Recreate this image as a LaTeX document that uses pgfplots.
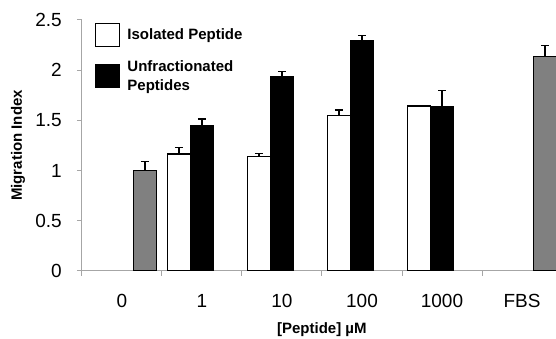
\documentclass[border=0pt]{standalone}
\usepackage{fontspec}
\setmainfont{Liberation Sans}
\usepackage{pgfplots}
\pgfplotsset{compat=1.18}
\definecolor{barGray}{HTML}{808080}
\definecolor{axGray}{HTML}{A6A6A6}
\begin{document}
\begin{tikzpicture}
\begin{axis}[
  scale only axis, width=474bp, height=251bp,
  xmin=-0.5, xmax=5.425, ymin=0, ymax=2.5,
  axis x line*=bottom, axis y line*=left,
  axis line style={axGray, line width=1bp},
  ybar, bar width=0.2875,
  ytick={0,0.5,1,1.5,2,2.5},
  yticklabels={0,0.5,1,1.5,2,2.5},
  xtick={-0.5,0.5,1.5,2.5,3.5,4.5}, xticklabels={},
  extra x ticks={0,1,2,3,4,5},
  extra x tick labels={0,1,10,100,1000,FBS},
  extra x tick style={major tick length=0pt},
  tick style={axGray, line width=1bp},
  tick align=outside, major tick length=5bp,
  tick label style={font=\fontsize{19bp}{22bp}\selectfont},
  x tick label style={anchor=center, yshift=-30bp},
  y tick label style={anchor=east, inner sep=0pt, xshift=-15bp},
  xlabel={[Peptide] µM},
  ylabel={Migration Index},
  every axis x label/.style={at={(axis description cs:0.506,-0.235)}, anchor=center, font=\fontsize{15bp}{18bp}\selectfont\bfseries},
  every axis y label/.style={at={(axis description cs:-0.135,0.5)}, rotate=90, anchor=center, font=\fontsize{15bp}{18bp}\selectfont\bfseries},
  legend style={draw=none, fill=none, inner sep=0pt, outer sep=0pt,
    at={(axis description cs:0.0274,0.99)}, anchor=north west,
    font=\fontsize{15bp}{19bp}\selectfont\bfseries, row sep=12bp,
    nodes={align=left},
    /tikz/every odd column/.append style={column sep=5bp}},
  legend cell align=left,
  legend image code/.code={\draw[#1, line width=1.5bp] (0bp,-11bp) rectangle (24bp,12bp);},
  error bars/y dir=plus, error bars/y explicit,
  error bars/error bar style={line width=1.5bp, black},
  error bars/error mark options={rotate=90, mark size=4bp, line width=1.5bp, black},
]
\addplot[bar shift=-0.2875, fill=white, draw=black, line width=1.5bp]
  coordinates {(1,1.165) +- (0,0.065) (2,1.14) +- (0,0.03) (3,1.547) +- (0,0.055) (4,1.643) +- (0,0)};
\addlegendentry{Isolated Peptide}
\addplot[bar shift=0, fill=black, draw=black, line width=1.5bp]
  coordinates {(1,1.447) +- (0,0.065) (2,1.93) +- (0,0.055) (3,2.294) +- (0,0.05) (4,1.633) +- (0,0.165)};
\addlegendentry{Unfractionated\\Peptides}
\addplot[forget plot, bar shift=0.2875, fill=barGray, draw=black, line width=1.5bp]
  coordinates {(0,1.0) +- (0,0.09) (5,2.134) +- (0,0.11)};
\end{axis}
\pgfresetboundingbox
\path[use as bounding box] ([shift={(-82bp,-68bp)}]current axis.south west) rectangle ([shift={(0bp,20bp)}]current axis.north east);
\end{tikzpicture}
\end{document}
